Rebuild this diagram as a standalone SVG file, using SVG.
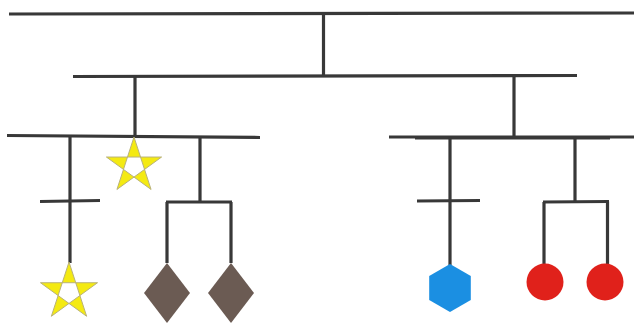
<svg xmlns="http://www.w3.org/2000/svg" width="634" height="324" viewBox="0 0 634 324">
<style>
.ln{stroke:#383838;stroke-width:3.2;fill:none;stroke-linecap:butt}
.thin{stroke:#383838;stroke-width:2;fill:none}
.star{fill:#f4ea12;fill-rule:evenodd;stroke:#b9b27a;stroke-width:1;stroke-linejoin:miter}
.dia{fill:#6b5b53}
.hex{fill:#1b8fe2}
.cir{fill:#e0211b}
</style>
<rect width="634" height="324" fill="#ffffff"/>
<g id="connectors">
<path class="ln" d="M9,14 L634,13"/>
<path class="ln" d="M323.5,13.5 L323.5,76"/>
<path class="ln" d="M73,76.5 L577,75.5"/>
<path class="ln" d="M135,76 L135,137"/>
<path class="ln" d="M514,76 L514,137"/>
<path class="ln" d="M7,135.5 L260,137.5"/>
<path class="ln" d="M70,136 L70,263"/>
<path class="ln" d="M40,201.5 L100,200.5"/>
<path class="ln" d="M200,137 L200,202"/>
<path class="ln" d="M166,202 L232,202"/>
<path class="ln" d="M167,202 L167,263"/>
<path class="ln" d="M231,202 L231,263"/>
<path class="ln" d="M389,137 L634,137"/>
<path class="thin" d="M415,138.5 L610,138.5"/>
<path class="ln" d="M450,137 L450,265"/>
<path class="ln" d="M417,201 L480,200.5"/>
<path class="ln" d="M575,138 L575,201"/>
<path class="ln" d="M543,202 L609,201.5"/>
<path class="ln" d="M544,202 L544,265"/>
<path class="ln" d="M607.5,201.5 L607.5,265"/>
</g>
<g id="star1"><path class="star" d="M134,137 L151.05,189.46 L106.42,157.04 L161.58,157.04 L116.95,189.46 Z"/></g>
<g id="star2"><path class="star" d="M69,262 L86.63,316.27 L40.47,282.73 L97.53,282.73 L51.37,316.27 Z"/></g>
<g id="diamond1"><path class="dia" d="M167,263 L190,293 L167,323 L144,293 Z"/></g>
<g id="diamond2"><path class="dia" d="M231,263 L254,293 L231,323 L208,293 Z"/></g>
<g id="hexagon"><path class="hex" d="M450,264 L470.8,276 L470.8,300 L450,312 L429.2,300 L429.2,276 Z"/></g>
<g id="circle1"><circle class="cir" cx="545" cy="282" r="18.5"/></g>
<g id="circle2"><circle class="cir" cx="605" cy="282" r="18.5"/></g>
</svg>
